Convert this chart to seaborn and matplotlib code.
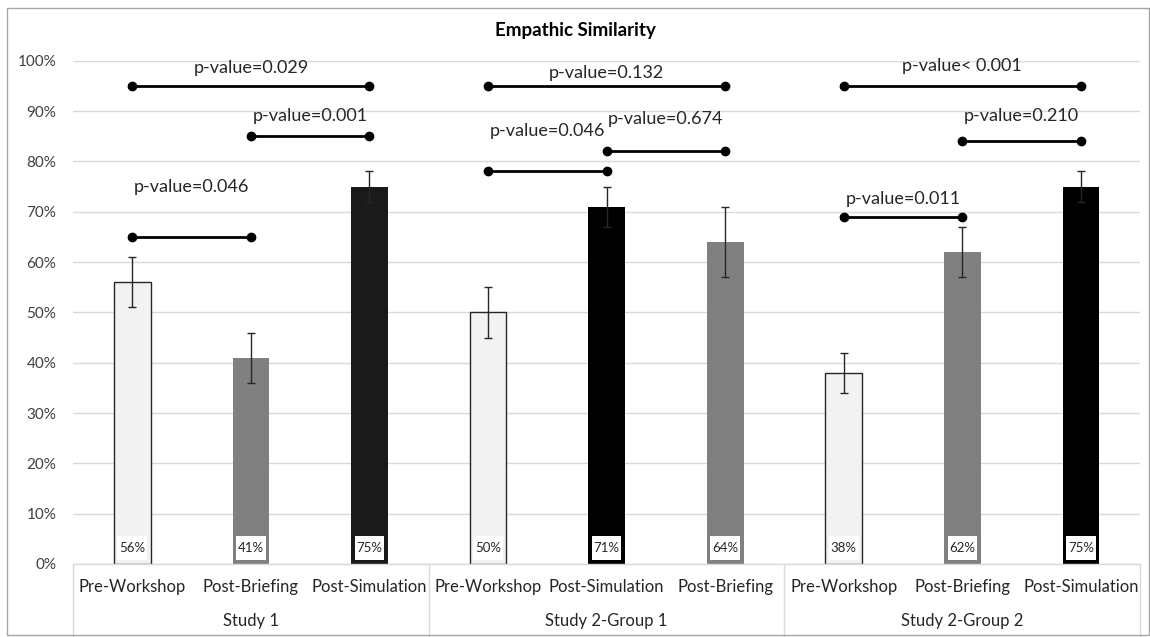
import matplotlib
matplotlib.use("Agg")
import matplotlib.pyplot as plt
import seaborn as sns
import pandas as pd
from matplotlib.patches import Rectangle

groups = ["Study 1", "Study 2-Group 1", "Study 2-Group 2"]
conditions = ["Pre-Workshop", "Post-Briefing", "Post-Simulation",
              "Pre-Workshop", "Post-Simulation", "Post-Briefing",
              "Pre-Workshop", "Post-Briefing", "Post-Simulation"]
values = [0.56, 0.41, 0.75, 0.50, 0.71, 0.64, 0.38, 0.62, 0.75]
errors = [0.05, 0.05, 0.03, 0.05, 0.04, 0.07, 0.04, 0.05, 0.03]
labels = ["56%", "41%", "75%", "50%", "71%", "64%", "38%", "62%", "75%"]
colors = ["#F2F2F2", "#808080", "#1A1A1A",
          "#F2F2F2", "#000000", "#808080",
          "#F2F2F2", "#808080", "#000000"]

# p-value brackets: (from bar, to bar, height, text, text y)
brackets = [
    (0, 2, 0.95, "p-value=0.029", 0.985),
    (1, 2, 0.85, "p-value=0.001", 0.89),
    (0, 1, 0.65, "p-value=0.046", 0.75),
    (3, 5, 0.95, "p-value=0.132", 0.975),
    (3, 4, 0.78, "p-value=0.046", 0.86),
    (4, 5, 0.82, "p-value=0.674", 0.885),
    (6, 8, 0.95, "p-value< 0.001", 0.99),
    (7, 8, 0.84, "p-value=0.210", 0.89),
    (6, 7, 0.69, "p-value=0.011", 0.725),
]

df = pd.DataFrame({"pos": [str(i) for i in range(9)], "value": values})

sns.set_theme(style="white")
plt.rcParams["font.family"] = ["Lato", "DejaVu Sans"]

fig = plt.figure(figsize=(11.5, 6.37), dpi=100)
ax = fig.add_axes([0.0635, 0.1146, 0.928, 0.79])

sns.barplot(data=df, x="pos", y="value", hue="pos", palette=colors,
            width=0.31, legend=False, ax=ax, saturation=1, zorder=2)

for i, p in enumerate(ax.patches[:9]):
    if colors[i] == "#F2F2F2":
        p.set_edgecolor("#262626")
        p.set_linewidth(1)
    else:
        p.set_linewidth(0)

ax.errorbar(range(9), values, yerr=errors, fmt="none", ecolor="#262626",
            elinewidth=1, capsize=3, capthick=1, zorder=3)

# value labels at bar bottoms
for i, lab in enumerate(labels):
    ax.add_patch(Rectangle((i - 0.125, 0.007), 0.25, 0.048, facecolor="white",
                           edgecolor="none", zorder=4))
    ax.text(i, 0.031, lab, ha="center", va="center", fontsize=9.5, color="#262626", zorder=5)

for a, b, h, txt, ty in brackets:
    ax.plot([a, b], [h, h], color="black", lw=2, marker="o", markersize=6, zorder=4)
    ax.text((a + b) / 2, ty, txt, ha="center", va="center", fontsize=13, color="#262626")

ax.set_xlim(-0.5, 8.5)
ax.set_ylim(0, 1.0)
ax.set_yticks([i / 10 for i in range(11)])
ax.set_yticklabels([f"{i * 10}%" for i in range(11)], fontsize=11, color="#404040")
ax.yaxis.grid(True, color="#D9D9D9", lw=1, zorder=0)
ax.set_axisbelow(True)
ax.tick_params(axis="y", length=0, pad=12)
ax.set_xticks([])
ax.set_xlabel("")
ax.set_ylabel("")
for s in ["top", "right", "left"]:
    ax.spines[s].set_visible(False)
ax.spines["bottom"].set_color("#D9D9D9")
ax.spines["bottom"].set_linewidth(1)

# category and group labels
trans = ax.get_xaxis_transform()
for i, c in enumerate(conditions):
    ax.text(i, -0.045, c, transform=trans, ha="center", va="center",
            fontsize=12, color="#262626", clip_on=False)
for g, name in enumerate(groups):
    ax.text(g * 3 + 1, -0.113, name, transform=trans, ha="center", va="center",
            fontsize=12, color="#262626", clip_on=False)
for xv in [-0.5, 2.5, 5.5, 8.5]:
    ax.plot([xv, xv], [0, -0.15], transform=trans, color="#D9D9D9", lw=1,
            clip_on=False)

fig.text(0.5, 0.952, "Empathic Similarity", ha="center", va="center",
         fontsize=13.5, fontweight="bold", color="black")
fig.add_artist(Rectangle((0.006, 0.003), 0.993, 0.984, transform=fig.transFigure,
                         fill=False, edgecolor="#A6A6A6", lw=1))

fig.savefig("out.png", dpi=100)
